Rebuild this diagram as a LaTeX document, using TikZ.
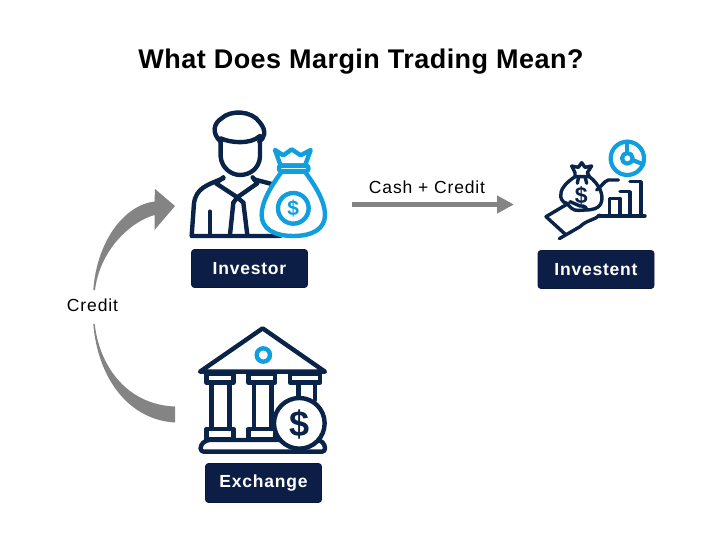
\documentclass[tikz,border=0pt]{standalone}
\usepackage{fontspec}
\setmainfont{Liberation Sans}
\newfontfamily\labelfont[LetterSpace=4.5]{Liberation Sans}
\newfontfamily\capfont[LetterSpace=5]{Liberation Sans}
\newfontfamily\headfont[LetterSpace=1.7]{Liberation Sans}
\usetikzlibrary{arrows.meta}
\definecolor{navy}{HTML}{0A2348}
\definecolor{boxnavy}{HTML}{0C1E46}
\definecolor{skyblue}{HTML}{0F9FDF}
\definecolor{arrowgrey}{HTML}{848484}
\tikzset{
    namebox/.style={draw=boxnavy!80!black, fill=boxnavy, rounded corners=3pt, line width=0.8pt, text=white, font=\labelfont\bfseries\fontsize{17.5}{20}\selectfont, minimum width=116pt, minimum height=38pt, inner sep=0pt},
    caption/.style={font=\capfont\fontsize{17.5}{20}\selectfont, inner sep=0pt},
    navyline/.style={draw=navy, line width=4.4pt, line join=round, line cap=round},
    blueline/.style={draw=skyblue, line width=4.4pt, line join=round, line cap=round},
    thinnavy/.style={draw=navy, line width=3.4pt, line join=round, line cap=round},
    thinblue/.style={draw=skyblue, line width=4.2pt, line join=round, line cap=round},
    greyflow/.style={fill=arrowgrey, draw=none}
}
\begin{document}
\begin{tikzpicture}[x=1pt, y=-1pt]
    \useasboundingbox[fill=white] (0,0) rectangle (721,551);
    % Title
    \node[font=\headfont\bfseries\fontsize{27}{32}\selectfont, inner sep=0pt] (title) at (361,62) {What Does Margin Trading Mean?};

    % Investor
    \begin{scope}[shift={(180,100)}, scale=0.3333]
        \draw[navyline] (122,125) .. controls (95,100) and (100,70) .. (125,55) .. controls (150,30) and (215,30) .. (240,68) .. controls (262,95) and (252,115) .. (238,125);
        \draw[navyline] (122,115) .. controls (150,128) and (210,135) .. (240,108);
        \draw[navyline] (122,118) -- (122,170) .. controls (125,205) and (155,225) .. (180,225) .. controls (210,225) and (238,205) .. (240,170) -- (240,118);
        \draw[navyline] (130,235) .. controls (80,255) and (48,265) .. (42,310) -- (35,408) -- (300,408);
        \draw[navyline] (222,238) -- (275,252);
        \draw[navyline] (90,335) -- (90,405);
        \draw[navyline] (130,232) -- (108,250) -- (172,292) -- (232,250) -- (218,232);
        \draw[navyline] (160,308) -- (150,405);
        \draw[navyline] (190,308) -- (202,405);
        \draw[navyline] (160,308) -- (172,292) -- (190,308);
        % money bag
        \draw[blueline, fill=white] (305,215) .. controls (280,250) and (245,300) .. (245,345) .. controls (245,385) and (280,408) .. (340,408) .. controls (400,408) and (435,385) .. (435,345) .. controls (435,300) and (400,250) .. (375,215) -- cycle;
        \draw[blueline, fill=white] (285,150) -- (310,166) -- (335,148) -- (362,166) -- (392,150) -- (375,197) -- (302,197) -- cycle;
        \draw[blueline, fill=white, rounded corners=2pt] (297,197) rectangle (385,213);
        \draw[blueline] (340,325) circle (46);
        \node[text=skyblue, font=\bfseries\fontsize{21}{21}\selectfont, inner sep=0pt] (bagdollar) at (340,325) {\$};
    \end{scope}
    \node[namebox] (investor) at (249.5,268.5) {Investor};

    % Investent
    \begin{scope}[shift={(530,130)}, scale=0.3333]
        \draw[thinblue] (292,85) circle (50);
        \draw[thinblue] (292,85) circle (16);
        \draw[thinblue] (292,35) -- (292,69);
        \draw[thinblue] (307,90) -- (340,103);
        \draw[thinnavy] (238,258) -- (238,205) -- (270,205) -- (270,258);
        \draw[thinnavy] (270,185) -- (300,185) -- (300,258);
        \draw[thinnavy] (300,155) -- (333,155) -- (333,258);
        \draw[thinnavy] (205,258) -- (345,258);
        \draw[thinnavy] (265,150) -- (235,150) .. controls (220,155) and (215,170) .. (200,180);
        % bag in hand
        \draw[thinnavy] (135,140) .. controls (105,160) and (90,180) .. (92,200) .. controls (95,215) and (105,220) .. (115,222);
        \draw[thinnavy] (178,140) .. controls (205,160) and (225,195) .. (212,222) .. controls (205,235) and (190,240) .. (165,240);
        \draw[thinnavy] (135,140) -- (178,140) -- (172,128) -- (185,108) -- (165,112) -- (155,98) -- (145,112) -- (125,108) -- (135,128) -- (135,140);
        \draw[thinnavy] (146,140) -- (142,160);
        \draw[thinnavy] (165,140) -- (170,160);
        \node[text=navy, font=\bfseries\fontsize{23}{23}\selectfont, inner sep=0pt] (handdollar) at (154,198) {\$};
        % hand
        \draw[thinnavy] (105,312) -- (48,260) -- (112,222) -- (125,235) .. controls (135,245) and (155,240) .. (165,240) .. controls (175,238) and (165,225) .. (150,228) -- (120,215);
        \draw[thinnavy] (88,326) -- (150,290) .. controls (170,270) and (195,270) .. (210,255);
    \end{scope}
    \node[namebox] (investent) at (596,269.5) {Investent};

    % Exchange
    \begin{scope}[shift={(190,320)}, scale=0.3333]
        \draw[navyline] (30,155) -- (218,25) -- (405,155) -- cycle;
        \draw[blueline] (220,105) circle (20);
        \draw[navyline] (50,160) rectangle (130,188);
        \draw[navyline] (175,160) rectangle (255,188);
        \draw[navyline] (300,160) rectangle (390,188);
        \draw[navyline] (65,188) -- (65,327);
        \draw[navyline] (118,188) -- (118,327);
        \draw[navyline] (192,188) -- (192,327);
        \draw[navyline] (245,188) -- (245,327);
        \draw[navyline] (325,188) -- (325,240);
        \draw[navyline] (375,188) -- (375,240);
        \draw[navyline] (50,327) rectangle (130,358);
        \draw[navyline] (175,327) rectangle (255,358);
        \draw[navyline, rounded corners=3pt] (32,395) -- (32,375) -- (50,360) -- (390,360) -- (405,375) -- (405,395) -- cycle;
        \draw[navyline, fill=white] (328,310) circle (76);
        \node[text=navy, font=\bfseries\fontsize{36}{36}\selectfont, inner sep=0pt] (bankdollar) at (328,312) {\$};
    \end{scope}
    \node[namebox, minimum height=39pt] (exchange) at (263.5,483) {Exchange};

    % Cash + Credit
    \node[caption] (cashlabel) at (427,187) {Cash + Credit};
    \coordinate (cashstart) at (352,204.5);
    \coordinate (cashend) at (514,204.5);
    \draw[arrowgrey, line width=4.5pt, -{Triangle[length=17pt,width=17pt]}] (cashstart) -- (cashend);

    % Credit
    \node[caption] (creditlabel) at (92.5,305) {Credit};
    \fill[greyflow] (93.3,290) .. controls (97,240) and (125,205) .. (154.5,201.5) -- (155,189) -- (175,206) -- (154.5,230) -- (154.5,215) .. controls (130,222) and (100,250) .. (95,290) -- cycle;
    \fill[greyflow] (93.3,324) .. controls (98,380) and (130,420) .. (175,422.5) -- (175,406.5) .. controls (130,405) and (100,370) .. (94.7,324) -- cycle;
\end{tikzpicture}
\end{document}
